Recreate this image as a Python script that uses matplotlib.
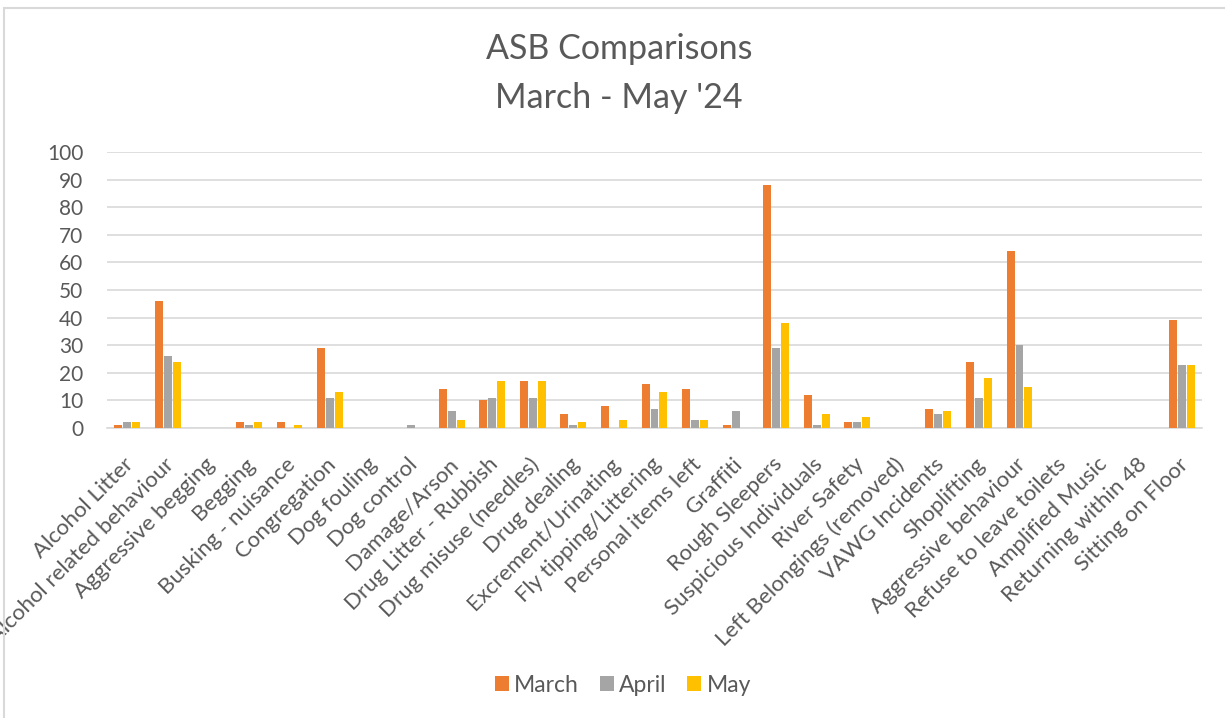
import matplotlib.pyplot as plt
import matplotlib.transforms as mtransforms
import numpy as np
from matplotlib.patches import Rectangle

categories = ["Alcohol Litter", "Alcohol related behaviour", "Aggressive begging", "Begging",
              "Busking - nuisance", "Congregation", "Dog fouling", "Dog control", "Damage/Arson",
              "Drug Litter - Rubbish", "Drug misuse (needles)", "Drug dealing", "Excrement/Urinating",
              "Fly tipping/Littering", "Personal items left", "Graffiti", "Rough Sleepers",
              "Suspicious Individuals", "River Safety", "Left Belongings (removed)", "VAWG Incidents",
              "Shoplifting", "Aggressive behaviour", "Refuse to leave toilets", "Amplified Music",
              "Returning within 48", "Sitting on Floor"]
march = [1, 46, 0, 2, 2, 29, 0, 0, 14, 10, 17, 5, 8, 16, 14, 1, 88, 12, 2, 0, 7, 24, 64, 0, 0, 0, 39]
april = [2, 26, 0, 1, 0, 11, 0, 1, 6, 11, 11, 1, 0, 7, 3, 6, 29, 1, 2, 0, 5, 11, 30, 0, 0, 0, 23]
may = [2, 24, 0, 2, 1, 13, 0, 0, 3, 17, 17, 2, 3, 13, 3, 0, 38, 5, 4, 0, 6, 18, 15, 0, 0, 0, 23]
series_names = ["March", "April", "May"]
colors = ["#ED7D31", "#A5A5A5", "#FFC000"]

plt.rcParams['font.family'] = ['Lato', 'DejaVu Sans']
text_col = "#595959"

fig = plt.figure(figsize=(12.25, 7.18), dpi=100)
# outer chart frame
fig.patches.append(Rectangle((4 / 1225, -0.01), 1.0, (718 - 8) / 718 + 0.01,
                             transform=fig.transFigure, fill=False,
                             edgecolor="#d9d9d9", linewidth=1.5))

ax = fig.add_axes([107 / 1225, (718 - 428) / 718, 1095 / 1225, 276 / 718])
x = np.arange(len(categories))
step = 0.22
for i, (vals, name) in enumerate(zip([march, april, may], series_names)):
    ax.bar(x + (i - 1) * step, vals, width=0.197, color=colors[i], label=name, zorder=3)

ax.set_xlim(-0.5, len(categories) - 0.5)
ax.set_ylim(0, 100)
ax.set_yticks(range(0, 101, 10))
ax.yaxis.grid(True, color="#d9d9d9", linewidth=1.2, zorder=0)
for s in ["top", "right", "left"]:
    ax.spines[s].set_visible(False)
ax.spines["bottom"].set_color("#d9d9d9")
ax.spines["bottom"].set_linewidth(1.2)
ax.tick_params(axis="both", length=0, colors=text_col, labelsize=15)
ax.tick_params(axis="y", pad=17)
ax.tick_params(axis="x", pad=8)
ax.set_xticks(x)
ax.set_xticklabels(categories, rotation=45, ha="right", rotation_mode="anchor", fontsize=16)
# shift labels down a bit like the original
offset = mtransforms.ScaledTranslation(-4 / 100, -15 / 100, fig.dpi_scale_trans)
for lbl in ax.get_xticklabels():
    lbl.set_transform(lbl.get_transform() + offset)

fig.text(619 / 1225, 1 - 49 / 718, "ASB Comparisons", ha="center", va="center", fontsize=24.5, color=text_col)
fig.text(619 / 1225, 1 - 98 / 718, "March - May '24", ha="center", va="center", fontsize=24.5, color=text_col)

fig.legend(loc="center", bbox_to_anchor=(623 / 1225, 1 - 685 / 718), ncol=3, frameon=False,
           fontsize=16.5, labelcolor=text_col, handlelength=0.6, handleheight=0.6,
           columnspacing=0.9, handletextpad=0.25)

fig.savefig("out.png", dpi=100)
